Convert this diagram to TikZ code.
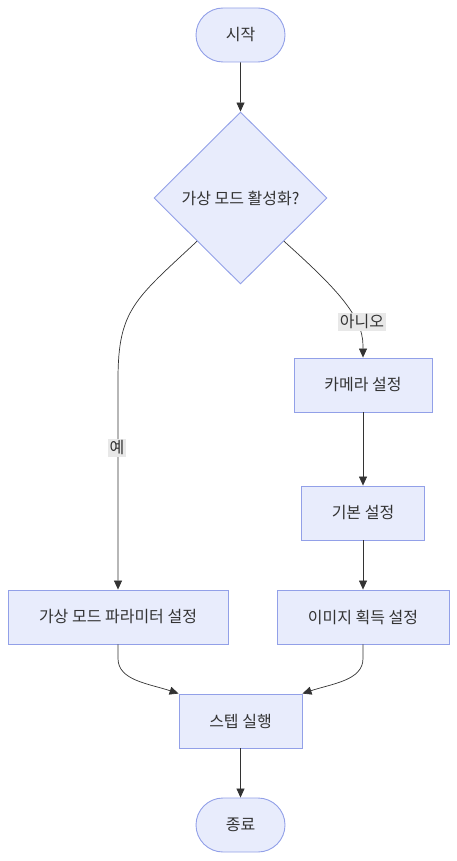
\documentclass[tikz,border=0pt]{standalone}
\usepackage{fontspec}
\setmainfont{Noto Sans CJK KR}
\usetikzlibrary{shapes.geometric,shapes.misc,arrows.meta,calc}
\definecolor{nodefill}{RGB}{232,236,252}
\definecolor{nodeline}{RGB}{146,160,232}
\definecolor{edgecol}{RGB}{51,51,51}
\definecolor{txt}{RGB}{51,51,51}
\definecolor{lblbg}{RGB}{232,232,232}
\begin{document}
\begin{tikzpicture}[x=1pt,y=-1pt,
  base/.style={draw=nodeline,fill=nodefill,line width=0.9pt,text=txt,font=\fontsize{16}{19}\selectfont,inner sep=0pt},
  term/.style={base,rounded rectangle,minimum width=89pt,minimum height=54pt},
  proc/.style={base,rectangle,minimum height=54pt},
  dec/.style={base,diamond,minimum width=173pt,minimum height=172pt},
  arr/.style={draw=edgecol,line width=0.7pt,-{Triangle[length=9pt,width=8pt]}},
  lbl/.style={fill=lblbg,text=txt,font=\fontsize{16}{19}\selectfont,inner sep=1.5pt}
]
\useasboundingbox (0,0) rectangle (457,861);
\node[term] (start) at (240.5,35) {시작};
\node[dec] (q) at (240.5,198) {가상 모드 활성화?};
\node[proc,minimum width=138pt] (cam) at (363,385) {카메라 설정};
\node[proc,minimum width=123pt] (basic) at (363,513) {기본 설정};
\node[proc,minimum width=220pt] (para) at (118,617) {가상 모드 파라미터 설정};
\node[proc,minimum width=172pt] (img) at (363,617) {이미지 획득 설정};
\node[proc,minimum width=123pt] (run) at (240.5,721) {스텝 실행};
\node[term] (end) at (240.5,825) {종료};

\draw[arr] (start) -- (q);
\draw[arr] (q.south west) .. controls +(-62,58) and +(0,-70) .. ($(para.north)+(0,-210)$) -- (para.north);
\draw[arr] (q.south east) .. controls +(50,45) and +(0,-30) .. ($(cam.north)+(0,-12)$) -- (cam.north);
\draw[arr] (cam) -- (basic);
\draw[arr] (basic) -- (img);
\draw[arr] (para.south) -- ++(0,14) .. controls +(0,22) and +(-30,-10) .. (run.north west);
\draw[arr] (img.south) -- ++(0,14) .. controls +(0,22) and +(30,-10) .. (run.north east);
\draw[arr] (run) -- (end);

\node[lbl] (yes) at (117,448) {예};
\node[lbl] (no) at (362,322) {아니오};
\end{tikzpicture}
\end{document}
